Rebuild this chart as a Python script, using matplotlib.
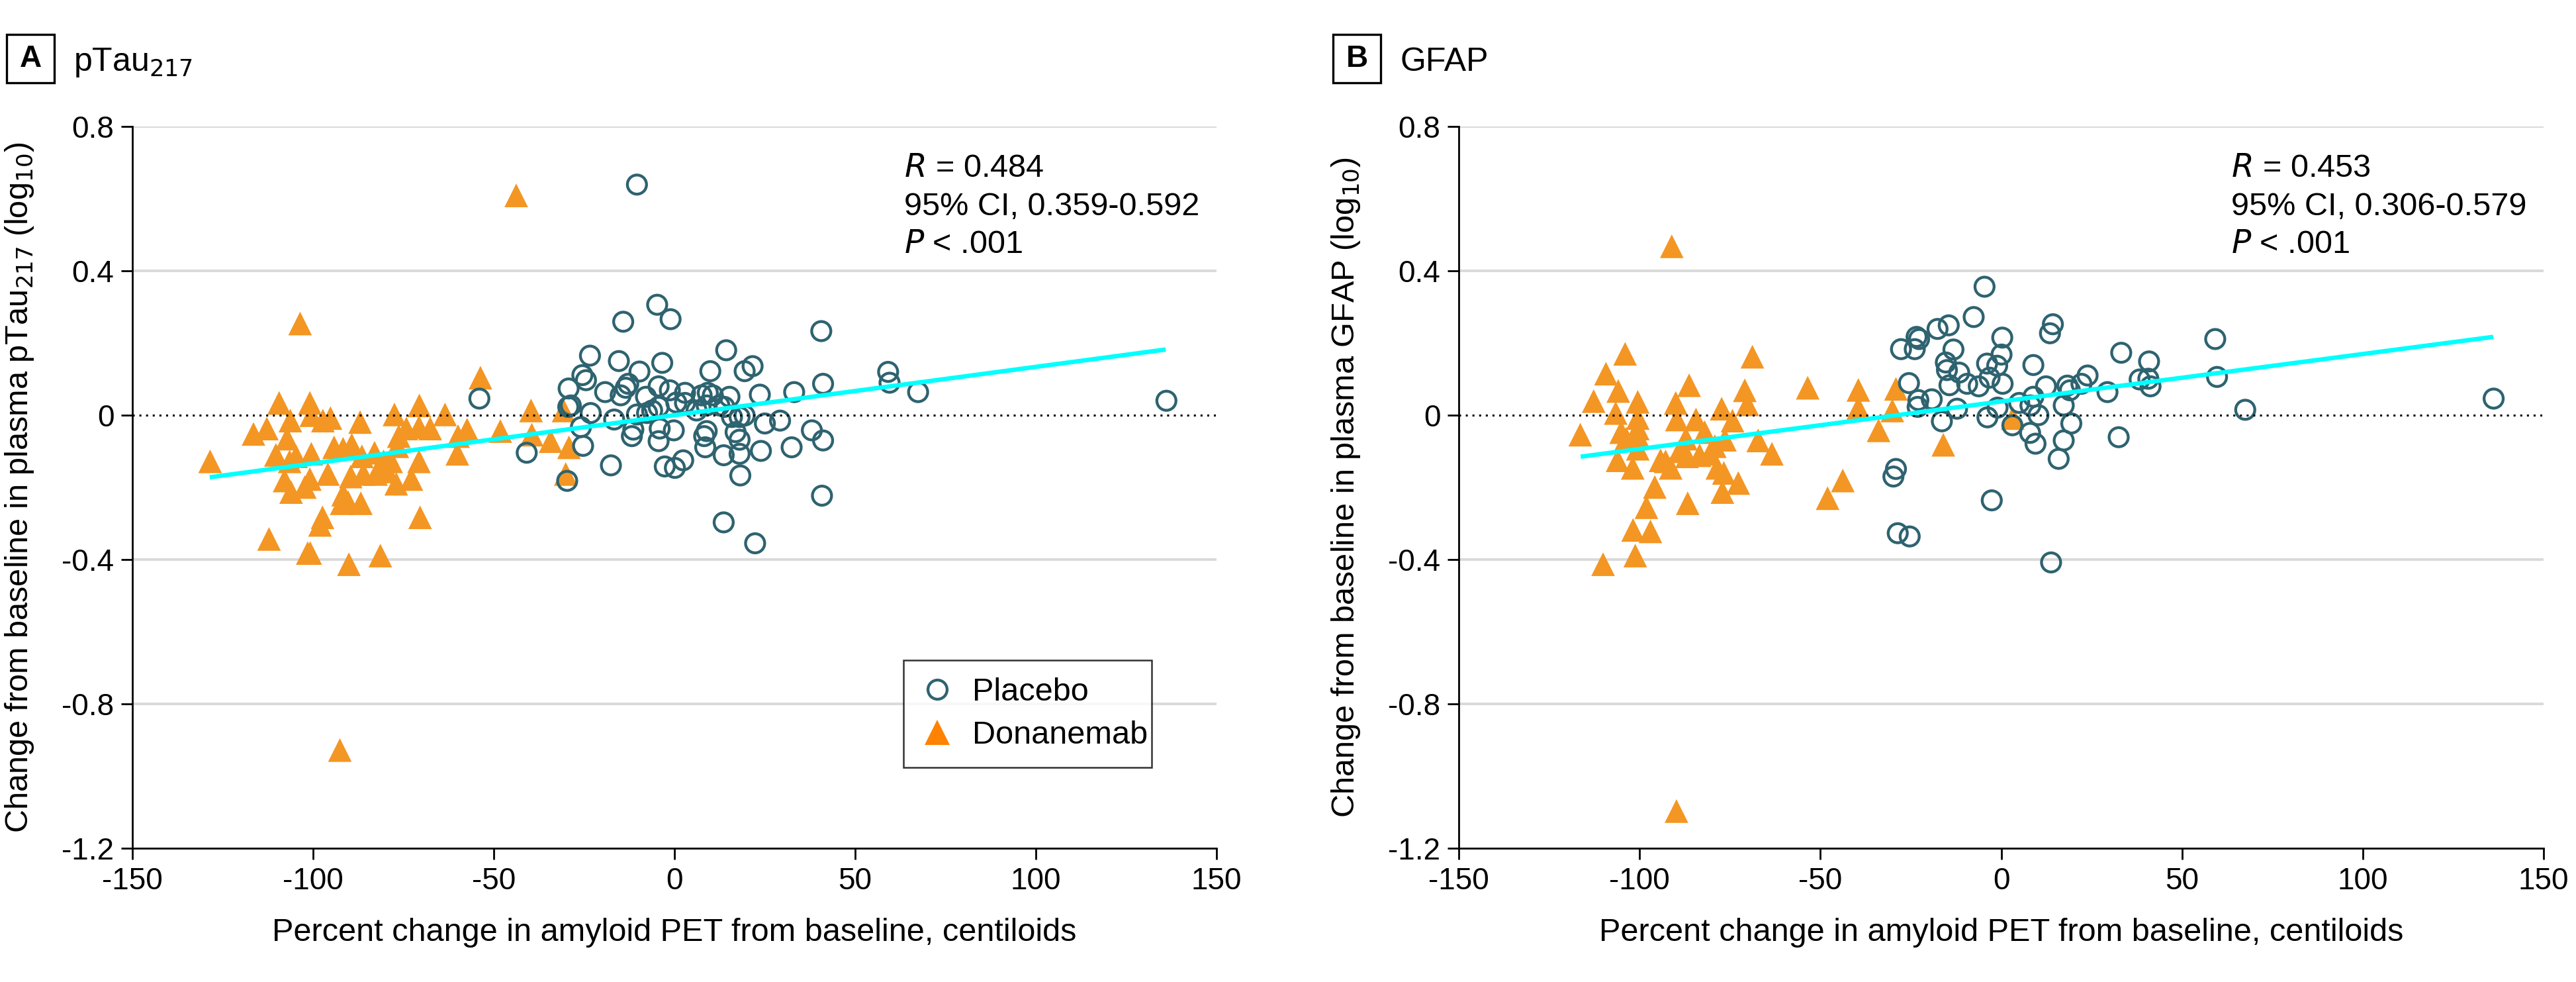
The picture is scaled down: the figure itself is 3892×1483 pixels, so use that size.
import matplotlib
matplotlib.use("Agg")
import matplotlib.pyplot as plt
from matplotlib.lines import Line2D
from matplotlib.patches import Rectangle

# Fonts (narrow sans to match the journal style)
FONTS = ["Liberation Sans Narrow", "Liberation Sans", "DejaVu Sans"]
plt.rcParams["font.family"] = FONTS
plt.rcParams["mathtext.fontset"] = "custom"
plt.rcParams["mathtext.rm"] = "Liberation Sans Narrow"
plt.rcParams["mathtext.it"] = "Liberation Sans Narrow:italic"

# ---------------- Data ----------------
x_ticks = [-150, -100, -50, 0, 50, 100, 150]
x_tick_labels = ["-150", "-100", "-50", "0", "50", "100", "150"]
y_ticks = [0.8, 0.4, 0, -0.4, -0.8, -1.2]
y_tick_labels = ["0.8", "0.4", "0", "-0.4", "-0.8", "-1.2"]

# Panel A: pTau217
a_placebo_x = [-54.0, -40.9, -29.7, -23.4, -25.5, -24.5, -29.3, -28.7, -29.4, -23.2, -25.9, -25.3,
               -4.8, -1.1, -14.2, 40.6, 14.3, -15.4, -3.4, -9.7, 9.9, 19.4, 21.6, -12.8, -13.5,
               -19.2, -14.9, -4.4, -1.3, 2.9, -7.9, 0.5, 9.2, 10.6, 15.2, 23.6, 33.1, 41.1, 59.1,
               59.5, 67.4, -16.7, -10.4, -6.2, -4.4, 6.1, 8.9, 12.4, 15.9, 18.0, 19.4, 25.0, 29.2,
               38.0, 41.1, 32.4, 23.9, 18.0, 13.6, 8.5, 8.2, 8.9, 16.9, 18.0, -0.2, -4.4, -4.1,
               -11.4, -11.8, -17.6, -2.7, 0.1, 2.4, 18.2, 40.8, 13.6, 22.3, -7.6, 2.9, 7.5, 13.8,
               -10.4, 136.1]
a_placebo_y = [0.046, -0.104, -0.182, 0.165, 0.111, 0.097, 0.074, 0.027, 0.023, 0.006, -0.033, -0.085,
               0.306, 0.266, 0.259, 0.233, 0.180, 0.150, 0.145, 0.121, 0.122, 0.122, 0.136, 0.087, 0.076,
               0.064, 0.055, 0.080, 0.069, 0.062, 0.051, 0.035, 0.062, 0.055, 0.051, 0.057, 0.064, 0.087, 0.120,
               0.090, 0.064, -0.012, 0.002, 0.013, 0.023, 0.013, 0.027, 0.027, -0.005, -0.005, -0.001, -0.023, -0.015,
               -0.042, -0.070, -0.089, -0.099, -0.107, -0.111, -0.089, -0.058, -0.044, -0.047, -0.068, -0.042, -0.072, -0.037,
               -0.040, -0.058, -0.139, -0.142, -0.146, -0.125, -0.167, -0.223, -0.297, -0.355, 0.006, 0.034, 0.055, 0.023,
               0.639, 0.040]
a_donanemab_x = [-103.6, -128.5, -116.5, -112.8, -109.4, -100.9, -106.3, -107.2, -110.3, -104.7, -100.5,
                 -97.3, -95.2, -100.5, -87.0, -77.5, -70.6, -63.5, -53.7, -39.7, -48.2, -57.4, -59.9,
                 -60.1, -39.5, -34.3, -29.2, -30.7, -30.1, -74.2, -70.7, -67.6, -76.3, -76.7, -70.7,
                 -72.8, -77.0, -70.4, -94.2, -91.7, -89.3, -86.5, -83.0, -79.5, -82.6, -86.1, -89.6,
                 -95.9, -100.9, -102.3, -106.1, -107.9, -91.7, -90.3, -86.8, -92.1, -97.4, -98.1,
                 -112.2, -101.5, -100.8, -90.1, -81.4, -80.5, -78.4, -106.5, -43.8, -92.6]
a_donanemab_y = [0.254, -0.128, -0.052, -0.037, 0.034, 0.034, -0.015, -0.065, -0.110, -0.114, -0.107,
                 -0.015, -0.008, 0.000, -0.019, 0.002, 0.027, 0.002, 0.104, 0.013, -0.044, -0.040, -0.058,
                 -0.107, -0.054, -0.072, -0.089, 0.013, -0.163, -0.037, -0.033, -0.037, -0.058, -0.086, -0.128,
                 -0.177, -0.190, -0.283, -0.089, -0.093, -0.082, -0.114, -0.104, -0.156, -0.163, -0.163, -0.170,
                 -0.163, -0.177, -0.199, -0.213, -0.181, -0.220, -0.241, -0.244, -0.244, -0.283, -0.304,
                 -0.343, -0.382, -0.382, -0.413, -0.389, -0.128, -0.128, -0.128, 0.609, -0.928]
a_fit_x = [-128.6, 135.9]
a_fit_y = [-0.172, 0.182]
a_stats = [r"$\mathit{R}$ = 0.484", "95% CI, 0.359-0.592", r"$\mathit{P}$ < .001"]

# Panel B: GFAP
b_placebo_x = [-27.7, -23.9, -23.4, -25.5, -23.1, -29.1, -29.8, -28.6, -25.3,
               -4.6, -7.6, -17.6, -14.5, -22.7, 0.3, 14.3, 13.5, -13.2, 0.1, -15.3, -15.0, -11.6,
               -3.9, -1.1, 8.9, 33.2, 40.9, 59.2, 59.7, 38.3, 40.7, 41.3, 23.9, 22.2, 18.3, 19.0,
               12.4, 29.4, 0.4, -3.2, -6.2, -9.4, -14.3, -19.2, -12.2, -16.4, -3.8, -1.0, 5.0, 8.1,
               8.9, 10.3, 17.3, 3.1, 8.0, 9.5, 19.4, 17.3, 15.9, 32.5, 67.5, -2.6, 13.8, -22.9, 136.2]
b_placebo_y = [0.183, 0.183, 0.217, 0.089, 0.023, -0.149, -0.170, -0.327, -0.336,
               0.356, 0.272, 0.239, 0.249, 0.211, 0.215, 0.252, 0.227, 0.182, 0.168, 0.146, 0.125, 0.118,
               0.143, 0.137, 0.139, 0.173, 0.149, 0.211, 0.106, 0.099, 0.101, 0.080, 0.110, 0.087, 0.082, 0.069,
               0.080, 0.064, 0.087, 0.104, 0.080, 0.087, 0.083, 0.044, 0.018, -0.017, -0.006, 0.021, 0.034, 0.027,
               0.051, 0.000, 0.027, -0.028, -0.049, -0.079, -0.023, -0.070, -0.121, -0.061, 0.015, -0.236, -0.408,
               0.042, 0.046]
b_donanemab_x = [-91.1, -104.0, -68.8, -109.3, -86.3, -105.9, -112.7, -100.5, -90.0, -70.9, -53.5,
                 -39.5, -29.1, -30.1, -39.5, -70.2, -77.3, -106.6, -100.5, -100.5, -89.7, -84.4, -74.3,
                 -33.9, -116.4, -105.1, -100.5, -82.0, -76.4, -67.2, -63.4, -87.2, -100.5, -106.1,
                 -101.9, -94.2, -91.4, -86.9, -83.4, -80.6, -78.5, -76.7, -72.7, -77.1, -95.8, -98.1,
                 -86.7, -101.8, -97.0, -101.2, -110.1, -43.8, -48.0, -92.8, -89.0, -79.2, -103.7,
                 -16.0, 3.2, -89.8]
b_donanemab_y = [0.468, 0.170, 0.162, 0.115, 0.083, 0.067, 0.039, 0.037, 0.034, 0.069, 0.076,
                 0.070, 0.073, 0.013, 0.020, 0.030, 0.018, 0.006, -0.008, -0.037, -0.012, -0.012, -0.015,
                 -0.042, -0.054, -0.047, -0.058, -0.047, -0.068, -0.070, -0.107, -0.065, -0.093, -0.125,
                 -0.146, -0.125, -0.146, -0.114, -0.111, -0.107, -0.146, -0.160, -0.188, -0.213, -0.199, -0.255,
                 -0.244, -0.318, -0.322, -0.389, -0.413, -0.181, -0.230, -0.128, -0.100, -0.086, -0.065,
                 -0.082, -0.008, -1.097]
b_fit_x = [-116.3, 136.1]
b_fit_y = [-0.115, 0.217]
b_stats = [r"$\mathit{R}$ = 0.453", "95% CI, 0.306-0.579", r"$\mathit{P}$ < .001"]

# ---------------- Style ----------------
PLACEBO_COLOR = "#2E6370"
DONANEMAB_COLOR = "#F39623"
FIT_COLOR = "#00FFFF"
GRID_COLOR = "#D9D9D9"


def draw_panel(ax, plc_x, plc_y, don_x, don_y, fit_x, fit_y, stats, ylabel):
    for v in y_ticks:
        if v not in (0, -1.2):
            ax.axhline(v, color=GRID_COLOR, lw=1.4, zorder=0)
    ax.scatter(don_x, don_y, marker="^", s=165, color=DONANEMAB_COLOR,
               edgecolors="none", zorder=2)
    ax.scatter(plc_x, plc_y, marker="o", s=108, facecolors="none",
               edgecolors=PLACEBO_COLOR, linewidths=1.55, zorder=3)
    ax.axhline(0, color="black", lw=1.1, ls=(0, (1, 2.3)), zorder=4)
    ax.plot(fit_x, fit_y, color=FIT_COLOR, lw=2.4, solid_capstyle="butt", zorder=5)

    ax.set_xlim(-150, 150)
    ax.set_ylim(-1.2, 0.8)
    ax.set_xticks(x_ticks)
    ax.set_xticklabels(x_tick_labels)
    ax.set_yticks(y_ticks)
    ax.set_yticklabels(y_tick_labels)
    ax.tick_params(axis="both", labelsize=16.5, length=6, width=1, color="black", pad=4)

    for side in ("top", "right"):
        ax.spines[side].set_visible(False)
    for side in ("left", "bottom"):
        ax.spines[side].set_linewidth(1)

    ax.set_xlabel("Percent change in amyloid PET from baseline, centiloids",
                  fontsize=17.5, labelpad=12)
    ax.set_ylabel(ylabel, fontsize=17.5, labelpad=14)

    for i, line in enumerate(stats):
        ax.text(0.712, 0.942 - i * 0.053, line, transform=ax.transAxes,
                fontsize=17.5, ha="left", va="center", zorder=6)


fig = plt.figure(figsize=(19.46, 7.415), dpi=200)
ax_a = fig.add_axes([0.0514, 0.1362, 0.4209, 0.735])
ax_b = fig.add_axes([0.5663, 0.1362, 0.4211, 0.735])

draw_panel(ax_a, a_placebo_x, a_placebo_y, a_donanemab_x, a_donanemab_y,
           a_fit_x, a_fit_y, a_stats,
           "Change from baseline in plasma pTau$_{217}$ (log$_{10}$)")
draw_panel(ax_b, b_placebo_x, b_placebo_y, b_donanemab_x, b_donanemab_y,
           b_fit_x, b_fit_y, b_stats,
           "Change from baseline in plasma GFAP (log$_{10}$)")

# Legend (panel A only)
handles = [
    Line2D([], [], ls="none", marker="o", markersize=10.4, markerfacecolor="none",
           markeredgecolor=PLACEBO_COLOR, markeredgewidth=1.55, label="Placebo"),
    Line2D([], [], ls="none", marker="^", markersize=13.5, color="#FF8200",
           markeredgewidth=0, label="Donanemab"),
]
leg = ax_a.legend(handles=handles, loc="upper left",
                  bbox_to_anchor=(0.711, 0.107, 0.229, 0.154), mode="expand",
                  fontsize=17.5, frameon=True, fancybox=False, edgecolor="black",
                  borderpad=0.55, labelspacing=0.4, handletextpad=0.6,
                  handlelength=1.0, borderaxespad=0)
leg.get_frame().set_linewidth(0.9)

# Panel letters and titles
for x0, letter, title in [(0.00257, "A", "pTau$_{217}$"), (0.51747, "B", "GFAP")]:
    fig.patches.append(Rectangle((x0, 0.9157), 0.0185, 0.0492, transform=fig.transFigure,
                                 facecolor="white", edgecolor="black", linewidth=1.2))
    fig.text(x0 + 0.00925, 0.9403, letter, fontsize=16.5, fontweight="bold",
             ha="center", va="center")
    fig.text(x0 + 0.0260, 0.9278, title, fontsize=18, ha="left", va="baseline")

fig.savefig("out.png", dpi=200)
